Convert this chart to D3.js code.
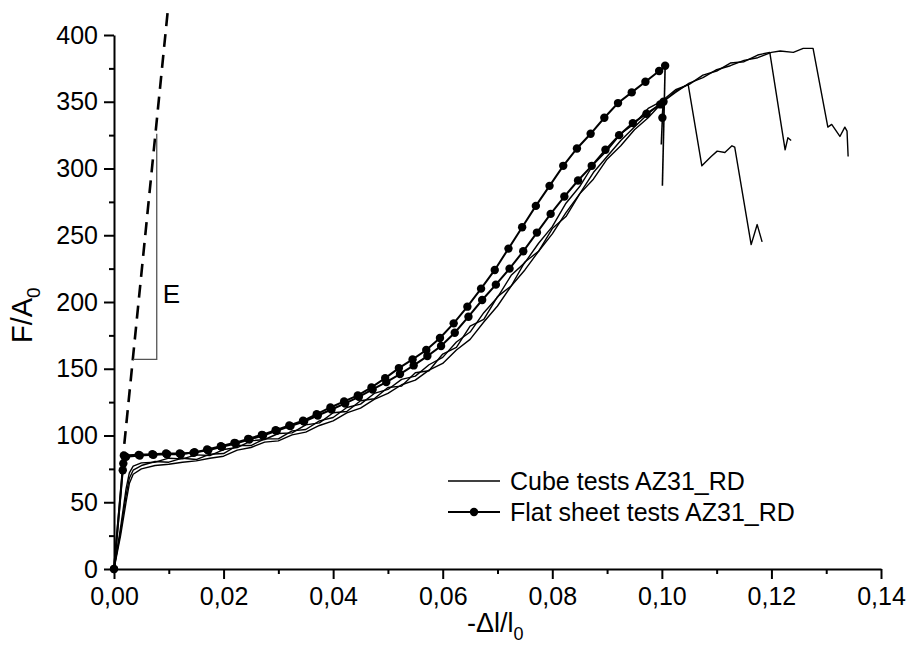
<!DOCTYPE html>
<html>
<head>
<meta charset="utf-8">
<script src="https://cdn.jsdelivr.net/npm/d3@7"></script>
<style>
  body { margin: 0; background: #fff; }
  svg { font-family: Arial, "Liberation Sans", Helvetica, sans-serif; }
</style>
</head>
<body>
<div id="chart"></div>
<script>
// tick values
const xTicks = [0, 0.02, 0.04, 0.06, 0.08, 0.10, 0.12, 0.14];
const xMinorTicks = [0.01, 0.03, 0.05, 0.07, 0.09, 0.11, 0.13];
const yTicks = [0, 50, 100, 150, 200, 250, 300, 350, 400];
const yMinorTicks = [25, 75, 125, 175, 225, 275, 325, 375];

// cube tests, shared strain grid up to 0.1
const cubeStrain = [0, 0.0012, 0.0022, 0.0028, 0.0035, 0.005, 0.0075, 0.01, 0.0125, 0.015, 0.0175, 0.02,
  0.0225, 0.025, 0.0275, 0.03, 0.0325, 0.035, 0.0375, 0.04, 0.0425, 0.045, 0.0475, 0.05, 0.0525, 0.055,
  0.0575, 0.06, 0.0625, 0.065, 0.0675, 0.07, 0.0725, 0.075, 0.0775, 0.08, 0.0825, 0.085, 0.0875, 0.09,
  0.0925, 0.095, 0.0975, 0.1];
const cubeStressA = [0, 31, 60, 72, 77, 79.5, 80, 83, 82.5, 85.5, 85, 89.5, 91, 96, 97, 101.5, 102, 108, 109.5,
  117, 118, 126, 127.5, 136, 137, 147, 148.5, 161, 166, 182, 187, 204, 212, 230, 238, 255, 264, 281, 292,
  307, 317, 329, 338, 349];
const cubeStressB = [0, 28, 55, 68, 74, 77.5, 80.5, 80, 83, 82, 86, 86.5, 92.5, 92.5, 97.5, 97.5, 103.5, 104.5,
  111, 113.5, 121, 123.5, 131.5, 134.5, 142, 144.5, 153, 158.5, 170, 177.5, 192, 203.5, 220, 229.5, 244,
  256.5, 274, 286.5, 303, 313.5, 326, 333.5, 345, 350.5];
const cubeStressC = [0, 25, 50, 64, 71, 75, 77.5, 78.5, 80, 81, 83, 84.5, 89, 91, 95, 96, 100.5, 102.5, 107.5,
  111, 117, 120.5, 127, 131.5, 138, 141.5, 149, 154, 164, 172, 185, 197, 212, 224, 238, 251, 267, 281,
  297, 309, 321, 331, 341, 349.5];

// cube test ends (strain, stress) past 0.1, with the failure drops
const cubeTailA = [[0.1025, 358], [0.1048, 363], [0.1073, 302], [0.109, 309], [0.1101, 313], [0.1115, 312],
  [0.1128, 317], [0.1133, 316], [0.1163, 243], [0.1174, 258], [0.1183, 245]];
const cubeTailB = [[0.1025, 359], [0.105, 363], [0.1075, 370], [0.11, 373], [0.1125, 379], [0.115, 380],
  [0.1175, 385], [0.1197, 387], [0.1225, 314], [0.123, 323], [0.1236, 321]];
const cubeTailC = [[0.1025, 357], [0.105, 364], [0.1075, 368], [0.11, 374], [0.1125, 377], [0.115, 381],
  [0.1175, 383], [0.12, 387], [0.1216, 388], [0.124, 387], [0.1258, 390], [0.1276, 390], [0.1303, 331],
  [0.131, 333], [0.1325, 324], [0.1334, 331], [0.1338, 328], [0.134, 309]];

// flat sheet tests (strain, stress), each point has a marker
const flatSheetA = [[0, 0], [0.0018, 85], [0.0045, 85.5], [0.007, 86], [0.0095, 86.5], [0.012, 86.5],
  [0.0145, 87], [0.017, 89.5], [0.0195, 92], [0.022, 94.5], [0.0245, 97.5], [0.027, 100.5], [0.0295, 104],
  [0.032, 107.5], [0.0345, 111], [0.037, 116], [0.0395, 121], [0.042, 125.5], [0.0445, 130], [0.047, 136],
  [0.0495, 143], [0.052, 150.5], [0.0545, 157], [0.057, 164], [0.0595, 173], [0.062, 184], [0.0645, 196.5],
  [0.067, 210], [0.0695, 224], [0.072, 240], [0.0745, 256], [0.077, 272], [0.0795, 287], [0.082, 302],
  [0.0845, 315], [0.087, 326], [0.0895, 338], [0.092, 349], [0.0945, 357], [0.097, 365], [0.0995, 373],
  [0.1006, 377]];
const flatSheetADrop = [[0.1006, 377], [0.1001, 287]];
const flatSheetB = [[0, 0], [0.0016, 74], [0.0017, 79], [0.0022, 84], [0.0047, 85], [0.0072, 85.5],
  [0.0097, 86], [0.0122, 86], [0.0147, 87.5], [0.0172, 89], [0.0197, 91.5], [0.0222, 94], [0.0247, 97],
  [0.0272, 100], [0.0297, 103.5], [0.0322, 107], [0.0347, 110.5], [0.0372, 115], [0.0397, 119.5],
  [0.0422, 124], [0.0447, 129], [0.0472, 134.5], [0.0497, 140], [0.0522, 146], [0.0547, 152.5],
  [0.0572, 159.5], [0.0597, 167], [0.0622, 177], [0.0647, 189], [0.0672, 201.5], [0.0697, 213],
  [0.0722, 225], [0.0747, 238], [0.0772, 252], [0.0797, 266], [0.0822, 279], [0.0847, 291], [0.0872, 302],
  [0.0897, 314], [0.0922, 325], [0.0947, 334], [0.0972, 341], [0.0997, 348], [0.1003, 350], [0.1001, 338]];
const flatSheetBDrop = [[0.1001, 338], [0.0999, 318]];

// elastic modulus line and its slope triangle
const elasticLine = [[0.0015, 78], [0.00986, 420]];
const slopeTriangle = [[0.0035, 157], [0.0078, 157], [0.0078, 326]];

const legendLabels = ["Cube tests AZ31_RD", "Flat sheet tests AZ31_RD"];

const width = 910;
const height = 646;
const margin = { left: 114, right: 29, top: 35, bottom: 77 };

const svg = d3.select('#chart')
  .append('svg')
  .attr('width', width)
  .attr('height', height);

const x = d3.scaleLinear().domain([0, 0.14]).range([margin.left, width - margin.right]);
const y = d3.scaleLinear().domain([0, 400]).range([height - margin.bottom, margin.top]);

const locale = d3.formatLocale({ decimal: ",", thousands: ".", grouping: [3], currency: ["", ""] });
const fmtX = locale.format(".2f");

// axes
const xAxis = svg.append('g')
  .attr('transform', `translate(0,${y(0)})`)
  .call(d3.axisBottom(x).tickValues(xTicks).tickFormat(fmtX).tickSize(10).tickSizeOuter(0).tickPadding(8));
const xMinor = svg.append('g')
  .attr('transform', `translate(0,${y(0)})`)
  .call(d3.axisBottom(x).tickValues(xMinorTicks).tickFormat('').tickSize(5).tickSizeOuter(0));
const yAxis = svg.append('g')
  .attr('transform', `translate(${x(0)},0)`)
  .call(d3.axisLeft(y).tickValues(yTicks).tickSize(10).tickSizeOuter(0).tickPadding(6));
const yMinor = svg.append('g')
  .attr('transform', `translate(${x(0)},0)`)
  .call(d3.axisLeft(y).tickValues(yMinorTicks).tickFormat('').tickSize(5).tickSizeOuter(0));

[xAxis, xMinor, yAxis, yMinor].forEach(g => {
  g.selectAll('path, line').attr('stroke', '#000').attr('stroke-width', 2);
  g.selectAll('text').attr('fill', '#000').attr('font-size', 25)
    .attr('font-family', 'Arial, "Liberation Sans", sans-serif');
});
xMinor.select('.domain').remove();
yMinor.select('.domain').remove();

// axis titles
const xTitle = svg.append('text')
  .attr('x', 467).attr('y', 632)
  .attr('font-size', 27);
xTitle.append('tspan').text('-\u0394l/l');
xTitle.append('tspan').attr('font-size', 18).attr('dy', 8).text('0');

const yTitle = svg.append('text')
  .attr('transform', `translate(32,343) rotate(-90)`)
  .attr('font-size', 29);
yTitle.append('tspan').text('F/A');
yTitle.append('tspan').attr('font-size', 19).attr('dy', 8).text('0');

const line = d3.line().x(d => x(d[0])).y(d => y(d[1]));

// elastic line and triangle
svg.append('path')
  .attr('d', line(elasticLine))
  .attr('fill', 'none')
  .attr('stroke', '#000')
  .attr('stroke-width', 2.6)
  .attr('stroke-dasharray', '13,8');
svg.append('path')
  .attr('d', line(slopeTriangle))
  .attr('fill', 'none')
  .attr('stroke', '#555')
  .attr('stroke-width', 1.3);
svg.append('text')
  .attr('x', x(0.0078) + 6).attr('y', 303)
  .attr('font-size', 26)
  .text('E');

// cube curves
const cubeCurves = [
  cubeStrain.map((s, i) => [s, cubeStressA[i]]).concat(cubeTailA),
  cubeStrain.map((s, i) => [s, cubeStressB[i]]).concat(cubeTailB),
  cubeStrain.map((s, i) => [s, cubeStressC[i]]).concat(cubeTailC)
];
svg.selectAll('.cube')
  .data(cubeCurves)
  .enter()
  .append('path')
  .classed('cube', true)
  .attr('d', line)
  .attr('fill', 'none')
  .attr('stroke', '#000')
  .attr('stroke-width', 1.4)
  .attr('stroke-linejoin', 'round');

// flat sheet curves
const flatCurves = [flatSheetA, flatSheetB];
svg.selectAll('.flatdrop')
  .data([flatSheetADrop, flatSheetBDrop])
  .enter()
  .append('path')
  .attr('d', line)
  .attr('fill', 'none')
  .attr('stroke', '#000')
  .attr('stroke-width', 1.6);
flatCurves.forEach(c => {
  svg.append('path')
    .attr('d', line(c))
    .attr('fill', 'none')
    .attr('stroke', '#000')
    .attr('stroke-width', 2);
  svg.append('g')
    .selectAll('circle')
    .data(c)
    .enter()
    .append('circle')
    .attr('cx', d => x(d[0]))
    .attr('cy', d => y(d[1]))
    .attr('r', 4.2)
    .attr('fill', '#000');
});

// legend
const legend = svg.append('g').attr('transform', 'translate(448,481)');
legendLabels.forEach((label, i) => {
  const row = legend.append('g').attr('transform', `translate(0,${i * 31})`);
  row.append('line')
    .attr('x1', 0).attr('x2', 52)
    .attr('stroke', '#000')
    .attr('stroke-width', i === 0 ? 1.4 : 2);
  if (i === 1) {
    row.append('circle').attr('cx', 26).attr('r', 4.2).attr('fill', '#000');
  }
  row.append('text')
    .attr('x', 62).attr('y', 9)
    .attr('font-size', 25)
    .text(label);
});
</script>
</body>
</html>
